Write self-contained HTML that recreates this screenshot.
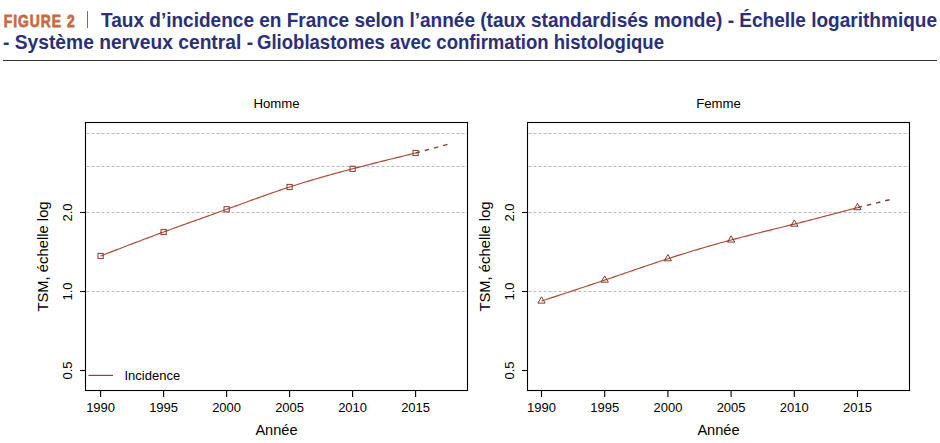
<!DOCTYPE html>
<html><head><meta charset="utf-8"><style>
html,body{margin:0;padding:0;background:#fff;}
body{width:940px;height:443px;overflow:hidden;position:relative;font-family:"Liberation Sans", sans-serif;}
.t{position:absolute;white-space:nowrap;font-weight:bold;color:#2b2f78;font-size:19px;line-height:22px;}
.fig{color:#c8703f;font-size:15px;}
.sep{position:absolute;left:87px;top:11.3px;width:1.4px;height:17.2px;background:#6a6e9a;}
.rule{position:absolute;left:3px;top:59.6px;width:934px;height:1.3px;background:#2e2e48;}
svg{position:absolute;left:0;top:0;}
</style></head><body>
<div class="sep"></div>
<div class="rule"></div>
<svg width="940" height="443" viewBox="0 0 940 443" font-family='"Liberation Sans", sans-serif' fill="#000">
<line x1="86.5" y1="133.5" x2="467.5" y2="133.5" stroke="#b8b8b8" stroke-width="1" stroke-dasharray="3 2"/>
<line x1="86.5" y1="166.5" x2="467.5" y2="166.5" stroke="#b8b8b8" stroke-width="1" stroke-dasharray="3 2"/>
<line x1="86.5" y1="212.5" x2="467.5" y2="212.5" stroke="#b8b8b8" stroke-width="1" stroke-dasharray="3 2"/>
<line x1="86.5" y1="291.5" x2="467.5" y2="291.5" stroke="#b8b8b8" stroke-width="1" stroke-dasharray="3 2"/>
<polyline points="100.60,256.00 103.75,254.78 106.90,253.56 110.05,252.34 113.20,251.13 116.35,249.91 119.50,248.69 122.65,247.48 125.80,246.27 128.95,245.06 132.10,243.86 135.25,242.65 138.40,241.45 141.55,240.25 144.70,239.06 147.85,237.87 151.00,236.69 154.15,235.51 157.30,234.33 160.45,233.16 163.60,232.00 166.75,230.84 169.90,229.69 173.05,228.54 176.20,227.40 179.35,226.26 182.50,225.12 185.65,223.99 188.80,222.85 191.95,221.73 195.10,220.60 198.25,219.47 201.40,218.34 204.55,217.22 207.70,216.09 210.85,214.97 214.00,213.84 217.15,212.71 220.30,211.57 223.45,210.44 226.60,209.30 229.75,208.16 232.90,207.01 236.05,205.87 239.20,204.72 242.35,203.57 245.50,202.43 248.65,201.28 251.80,200.14 254.95,199.00 258.10,197.87 261.25,196.74 264.40,195.62 267.55,194.51 270.70,193.40 273.85,192.30 277.00,191.22 280.15,190.15 283.30,189.08 286.45,188.03 289.60,187.00 292.75,185.98 295.90,184.97 299.05,183.98 302.20,183.01 305.35,182.04 308.50,181.09 311.65,180.15 314.80,179.22 317.95,178.30 321.10,177.39 324.25,176.50 327.40,175.61 330.55,174.73 333.70,173.86 336.85,173.00 340.00,172.15 343.15,171.30 346.30,170.46 349.45,169.63 352.60,168.80 355.92,167.93 359.23,167.07 362.55,166.22 365.86,165.37 369.18,164.52 372.49,163.68 375.81,162.85 379.13,162.01 382.44,161.18 385.76,160.36 389.07,159.53 392.39,158.71 395.71,157.89 399.02,157.07 402.34,156.26 405.65,155.44 408.97,154.63 412.28,153.81 415.60,153.00" fill="none" stroke="#a84a36" stroke-width="1.15"/>
<line x1="415.60" y1="153.00" x2="448" y2="144.3" stroke="#83402f" stroke-width="1.4" stroke-dasharray="4.5 5"/>
<rect x="98.00" y="253.40" width="5.2" height="5.2" fill="none" stroke="#86392c" stroke-width="1"/>
<rect x="161.00" y="229.40" width="5.2" height="5.2" fill="none" stroke="#86392c" stroke-width="1"/>
<rect x="224.00" y="206.70" width="5.2" height="5.2" fill="none" stroke="#86392c" stroke-width="1"/>
<rect x="287.00" y="184.40" width="5.2" height="5.2" fill="none" stroke="#86392c" stroke-width="1"/>
<rect x="350.00" y="166.20" width="5.2" height="5.2" fill="none" stroke="#86392c" stroke-width="1"/>
<rect x="413.00" y="150.40" width="5.2" height="5.2" fill="none" stroke="#86392c" stroke-width="1"/>
<rect x="85.5" y="122.5" width="382.0" height="268.0" fill="none" stroke="#000" stroke-width="1.1"/>
<line x1="100.60" y1="390.5" x2="100.60" y2="397.0" stroke="#000" stroke-width="1.1"/>
<text x="100.60" y="411.8" font-size="13" text-anchor="middle">1990</text>
<line x1="163.60" y1="390.5" x2="163.60" y2="397.0" stroke="#000" stroke-width="1.1"/>
<text x="163.60" y="411.8" font-size="13" text-anchor="middle">1995</text>
<line x1="226.60" y1="390.5" x2="226.60" y2="397.0" stroke="#000" stroke-width="1.1"/>
<text x="226.60" y="411.8" font-size="13" text-anchor="middle">2000</text>
<line x1="289.60" y1="390.5" x2="289.60" y2="397.0" stroke="#000" stroke-width="1.1"/>
<text x="289.60" y="411.8" font-size="13" text-anchor="middle">2005</text>
<line x1="352.60" y1="390.5" x2="352.60" y2="397.0" stroke="#000" stroke-width="1.1"/>
<text x="352.60" y="411.8" font-size="13" text-anchor="middle">2010</text>
<line x1="415.60" y1="390.5" x2="415.60" y2="397.0" stroke="#000" stroke-width="1.1"/>
<text x="415.60" y="411.8" font-size="13" text-anchor="middle">2015</text>
<line x1="80.0" y1="370.5" x2="85.5" y2="370.5" stroke="#000" stroke-width="1.1"/>
<text transform="translate(71.7,370.5) rotate(-90)" font-size="13" text-anchor="middle">0.5</text>
<line x1="80.0" y1="291.5" x2="85.5" y2="291.5" stroke="#000" stroke-width="1.1"/>
<text transform="translate(71.7,291.5) rotate(-90)" font-size="13" text-anchor="middle">1.0</text>
<line x1="80.0" y1="212.5" x2="85.5" y2="212.5" stroke="#000" stroke-width="1.1"/>
<text transform="translate(71.7,212.5) rotate(-90)" font-size="13" text-anchor="middle">2.0</text>
<text x="276.5" y="107.8" font-size="13.2" text-anchor="middle">Homme</text>
<text x="276.5" y="434.5" font-size="14.6" text-anchor="middle">Année</text>
<text transform="translate(47.5,256.5) rotate(-90)" font-size="14.8" text-anchor="middle">TSM, échelle log</text>
<line x1="528.5" y1="133.5" x2="909.5" y2="133.5" stroke="#b8b8b8" stroke-width="1" stroke-dasharray="3 2"/>
<line x1="528.5" y1="166.5" x2="909.5" y2="166.5" stroke="#b8b8b8" stroke-width="1" stroke-dasharray="3 2"/>
<line x1="528.5" y1="212.5" x2="909.5" y2="212.5" stroke="#b8b8b8" stroke-width="1" stroke-dasharray="3 2"/>
<line x1="528.5" y1="291.5" x2="909.5" y2="291.5" stroke="#b8b8b8" stroke-width="1" stroke-dasharray="3 2"/>
<polyline points="541.50,301.00 544.66,299.97 547.82,298.94 550.98,297.90 554.14,296.87 557.30,295.84 560.46,294.80 563.62,293.77 566.78,292.73 569.94,291.69 573.10,290.65 576.26,289.61 579.42,288.56 582.58,287.52 585.74,286.47 588.90,285.41 592.06,284.36 595.22,283.30 598.38,282.24 601.54,281.17 604.70,280.10 607.86,279.03 611.02,277.95 614.18,276.87 617.34,275.79 620.50,274.70 623.66,273.62 626.82,272.53 629.98,271.45 633.14,270.36 636.30,269.28 639.46,268.20 642.62,267.13 645.78,266.05 648.94,264.99 652.10,263.92 655.26,262.86 658.42,261.81 661.58,260.77 664.74,259.73 667.90,258.70 671.06,257.68 674.22,256.67 677.38,255.66 680.54,254.67 683.70,253.69 686.86,252.71 690.02,251.74 693.18,250.78 696.34,249.83 699.50,248.89 702.66,247.96 705.82,247.04 708.98,246.13 712.14,245.23 715.30,244.33 718.46,243.45 721.62,242.57 724.78,241.70 727.94,240.85 731.10,240.00 734.26,239.16 737.42,238.33 740.58,237.51 743.74,236.70 746.90,235.89 750.06,235.09 753.22,234.29 756.38,233.50 759.54,232.71 762.70,231.93 765.86,231.15 769.02,230.37 772.18,229.59 775.34,228.81 778.50,228.03 781.66,227.25 784.82,226.47 787.98,225.68 791.14,224.89 794.30,224.10 797.63,223.26 800.95,222.42 804.28,221.57 807.61,220.72 810.93,219.86 814.26,219.00 817.58,218.14 820.91,217.27 824.24,216.40 827.56,215.53 830.89,214.65 834.22,213.78 837.54,212.90 840.87,212.02 844.19,211.14 847.52,210.25 850.85,209.37 854.17,208.48 857.50,207.60" fill="none" stroke="#a84a36" stroke-width="1.15"/>
<line x1="857.50" y1="207.60" x2="890" y2="199.6" stroke="#83402f" stroke-width="1.4" stroke-dasharray="4.5 5"/>
<polygon points="541.50,296.80 545.14,303.10 537.86,303.10" fill="none" stroke="#86392c" stroke-width="1"/>
<polygon points="604.70,275.90 608.34,282.20 601.06,282.20" fill="none" stroke="#86392c" stroke-width="1"/>
<polygon points="667.90,254.50 671.54,260.80 664.26,260.80" fill="none" stroke="#86392c" stroke-width="1"/>
<polygon points="731.10,235.80 734.74,242.10 727.46,242.10" fill="none" stroke="#86392c" stroke-width="1"/>
<polygon points="794.30,219.90 797.94,226.20 790.66,226.20" fill="none" stroke="#86392c" stroke-width="1"/>
<polygon points="857.50,203.40 861.14,209.70 853.86,209.70" fill="none" stroke="#86392c" stroke-width="1"/>
<rect x="527.5" y="122.5" width="382.0" height="268.0" fill="none" stroke="#000" stroke-width="1.1"/>
<line x1="541.50" y1="390.5" x2="541.50" y2="397.0" stroke="#000" stroke-width="1.1"/>
<text x="541.50" y="411.8" font-size="13" text-anchor="middle">1990</text>
<line x1="604.70" y1="390.5" x2="604.70" y2="397.0" stroke="#000" stroke-width="1.1"/>
<text x="604.70" y="411.8" font-size="13" text-anchor="middle">1995</text>
<line x1="667.90" y1="390.5" x2="667.90" y2="397.0" stroke="#000" stroke-width="1.1"/>
<text x="667.90" y="411.8" font-size="13" text-anchor="middle">2000</text>
<line x1="731.10" y1="390.5" x2="731.10" y2="397.0" stroke="#000" stroke-width="1.1"/>
<text x="731.10" y="411.8" font-size="13" text-anchor="middle">2005</text>
<line x1="794.30" y1="390.5" x2="794.30" y2="397.0" stroke="#000" stroke-width="1.1"/>
<text x="794.30" y="411.8" font-size="13" text-anchor="middle">2010</text>
<line x1="857.50" y1="390.5" x2="857.50" y2="397.0" stroke="#000" stroke-width="1.1"/>
<text x="857.50" y="411.8" font-size="13" text-anchor="middle">2015</text>
<line x1="522.0" y1="370.5" x2="527.5" y2="370.5" stroke="#000" stroke-width="1.1"/>
<text transform="translate(513.7,370.5) rotate(-90)" font-size="13" text-anchor="middle">0.5</text>
<line x1="522.0" y1="291.5" x2="527.5" y2="291.5" stroke="#000" stroke-width="1.1"/>
<text transform="translate(513.7,291.5) rotate(-90)" font-size="13" text-anchor="middle">1.0</text>
<line x1="522.0" y1="212.5" x2="527.5" y2="212.5" stroke="#000" stroke-width="1.1"/>
<text transform="translate(513.7,212.5) rotate(-90)" font-size="13" text-anchor="middle">2.0</text>
<text x="718.5" y="107.8" font-size="13.2" text-anchor="middle">Femme</text>
<text x="718.5" y="434.5" font-size="14.6" text-anchor="middle">Année</text>
<text transform="translate(489.5,256.5) rotate(-90)" font-size="14.8" text-anchor="middle">TSM, échelle log</text>
<line x1="88.5" y1="375.4" x2="113" y2="375.4" stroke="#7a4a40" stroke-width="1.2"/>
<text x="124.5" y="380" font-size="13">Incidence</text>
<g font-weight="bold" fill="#2b2f78">
<text transform="translate(3.8,26.7) scale(0.84,1)" font-size="16.5" fill="#c26c46" stroke="#c26c46" stroke-width="0.75" textLength="84.29" lengthAdjust="spacing">FIGURE 2</text>
<text x="101" y="26.7" font-size="19.8" textLength="836" lengthAdjust="spacingAndGlyphs">Taux d’incidence en France selon l’année (taux standardisés monde) - Échelle logarithmique</text>
<text x="3" y="48.6" font-size="19.8" textLength="250.04" lengthAdjust="spacingAndGlyphs">- Système nerveux central -</text>
<text x="257" y="48.6" font-size="19.8" textLength="407.02" lengthAdjust="spacingAndGlyphs">Glioblastomes avec confirmation histologique</text>
</g>
</svg>
</body></html>
